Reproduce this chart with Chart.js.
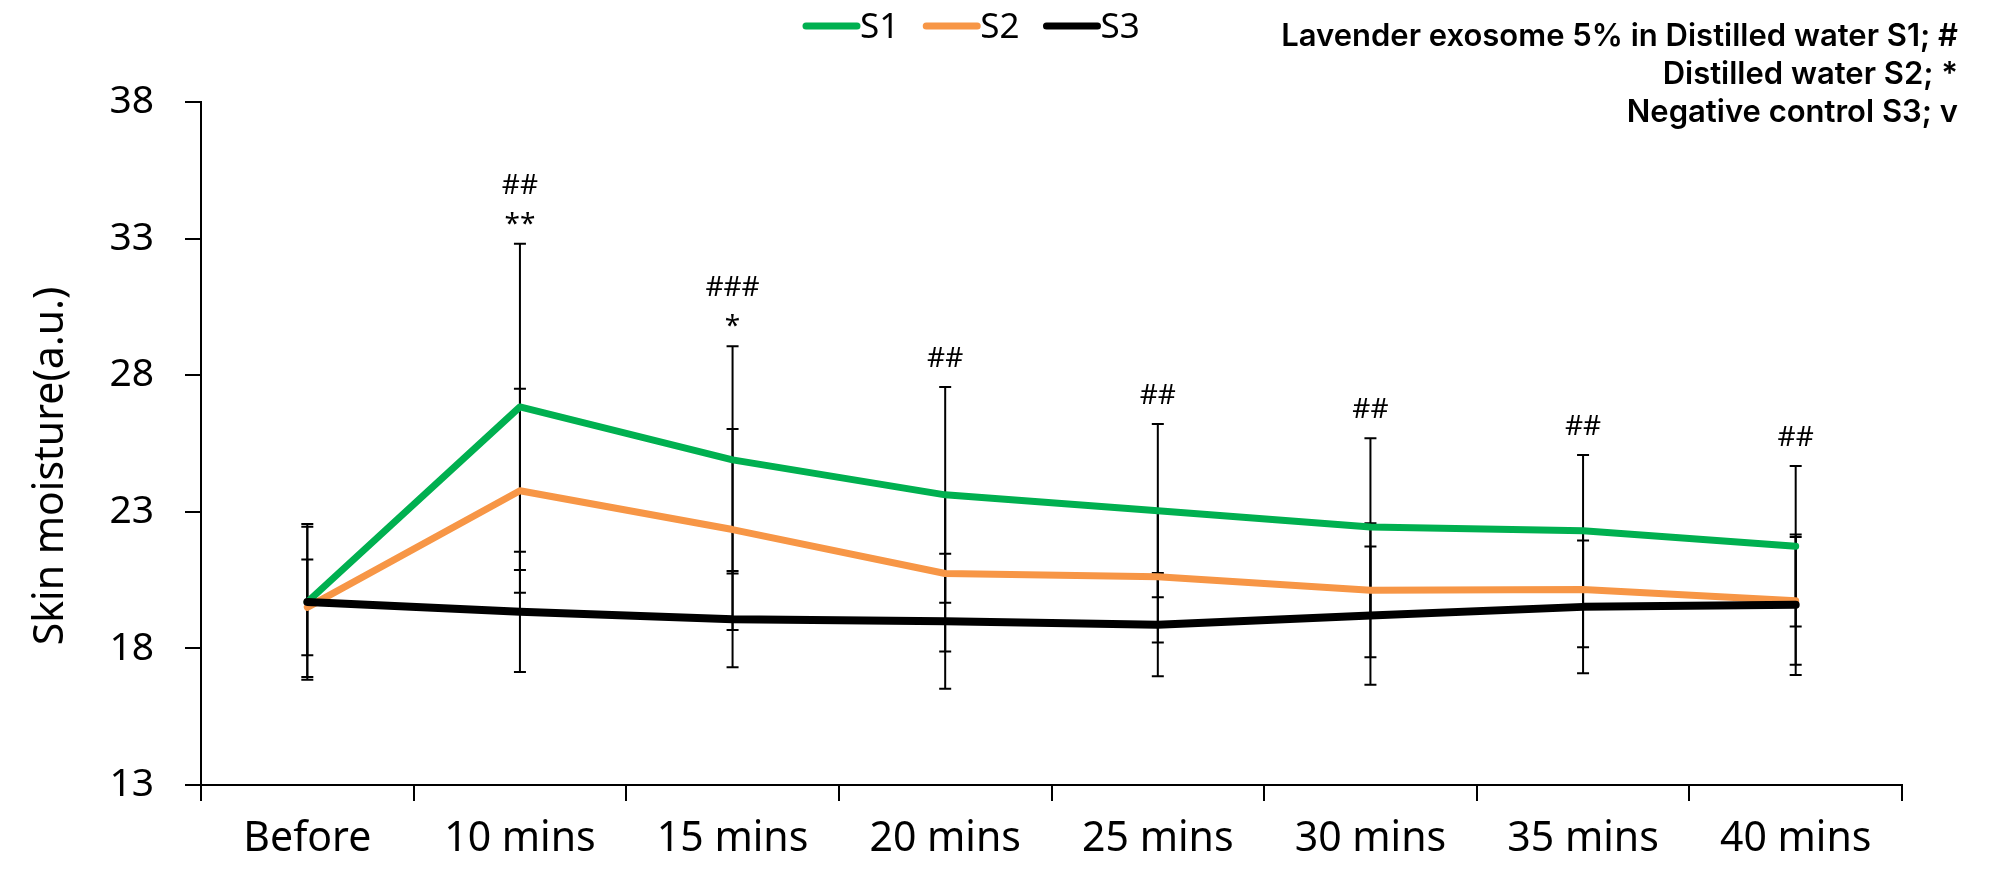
<!DOCTYPE html>
<html>
<head>
<meta charset="utf-8">
<script src="https://cdn.jsdelivr.net/npm/chart.js@4/dist/chart.umd.min.js"></script>
<style>
  html, body { margin: 0; padding: 0; background: #fff; }
  #wrap { width: 1994px; height: 871px; }
</style>
</head>
<body>
<div id="wrap"><canvas id="moisture-chart"></canvas></div>
<script>
const categories = ['Before', '10 mins', '15 mins', '20 mins', '25 mins', '30 mins', '35 mins', '40 mins'];
const seriesNames = ['S1', 'S2', 'S3'];
const s1 = [19.7, 26.84, 24.9, 23.62, 23.04, 22.44, 22.31, 21.74];
const s2 = [19.5, 23.77, 22.35, 20.74, 20.62, 20.13, 20.16, 19.74];
const s3 = [19.7, 19.34, 19.07, 18.99, 18.87, 19.2, 19.52, 19.6];
const s1Err = [2.85, 5.97, 4.16, 3.95, 3.17, 3.25, 2.77, 2.94];
const s2Err = [1.75, 3.73, 3.68, 2.85, 2.4, 2.45, 2.12, 2.34];
const s3Err = [2.75, 2.2, 1.76, 2.47, 1.89, 2.53, 2.43, 2.57];
const hashLabels = ['', '##', '###', '##', '##', '##', '##', '##'];
const starLabels = ['', '**', '*', '', '', '', '', ''];
const yTicks = [13, 18, 23, 28, 33, 38];
const noteLines = [
    'Lavender exosome 5% in Distilled water S1; #',
    'Distilled water S2; *',
    'Negative control S3; v'
];
const yTitle = 'Skin moisture(a.u.)';

const colors = ['#00B050', '#F79646', '#000000'];
const errors = [s1Err, s2Err, s3Err];
const FONT = '"Noto Sans", "Open Sans", sans-serif';

// error bars go under the lines
const errorBarPlugin = {
    id: 'errorBars',
    beforeDatasetsDraw(chart) {
        const ctx = chart.ctx;
        const y = chart.scales.y;
        ctx.save();
        ctx.strokeStyle = '#000';
        ctx.lineWidth = 2;
        chart.data.datasets.forEach((ds, di) => {
            const meta = chart.getDatasetMeta(di);
            meta.data.forEach((pt, i) => {
                const v = ds.data[i], e = errors[di][i];
                const top = y.getPixelForValue(v + e);
                const bot = y.getPixelForValue(v - e);
                ctx.beginPath();
                ctx.moveTo(pt.x, top); ctx.lineTo(pt.x, bot);
                ctx.moveTo(pt.x - 6, top); ctx.lineTo(pt.x + 6, top);
                ctx.moveTo(pt.x - 6, bot); ctx.lineTo(pt.x + 6, bot);
                ctx.stroke();
            });
        });
        ctx.restore();
    }
};

const extrasPlugin = {
    id: 'extras',
    afterDraw(chart) {
        const ctx = chart.ctx;
        const y = chart.scales.y;
        const meta = chart.getDatasetMeta(0);
        ctx.save();

        // significance marks above the S1 bars
        ctx.fillStyle = '#000';
        ctx.textAlign = 'center';
        ctx.textBaseline = 'alphabetic';
        ctx.font = '28px ' + FONT;
        meta.data.forEach((pt, i) => {
            const cap = y.getPixelForValue(s1[i] + s1Err[i]);
            if (starLabels[i]) {
                ctx.fillText(starLabels[i], pt.x, cap - 11);
                ctx.fillText(hashLabels[i], pt.x, cap - 50);
            } else if (hashLabels[i]) {
                ctx.fillText(hashLabels[i], pt.x, cap - 20);
            }
        });

        // legend
        let x = 803;
        ctx.font = '35px ' + FONT;
        ctx.textAlign = 'left';
        ctx.textBaseline = 'middle';
        ctx.lineCap = 'round';
        seriesNames.forEach((name, i) => {
            ctx.strokeStyle = colors[i];
            ctx.lineWidth = 7;
            ctx.beginPath();
            ctx.moveTo(x + 3, 26); ctx.lineTo(x + 54, 26);
            ctx.stroke();
            ctx.fillStyle = '#000';
            ctx.fillText(name, x + 57, 28);
            x += 57 + ctx.measureText(name).width + 24;
        });

        // note in the top right corner
        ctx.font = '600 31px Inter, sans-serif';
        ctx.textAlign = 'right';
        noteLines.forEach((t, i) => ctx.fillText(t, 1958, 37 + i * 38));

        // y title
        ctx.translate(51, 466);
        ctx.rotate(-Math.PI / 2);
        ctx.textAlign = 'center';
        ctx.font = '41px ' + FONT;
        ctx.fillText(yTitle, 0, 0);
        ctx.restore();
    }
};

const datasets = [s1, s2, s3].map((d, i) => ({
    label: seriesNames[i],
    data: d,
    borderColor: colors[i],
    backgroundColor: colors[i],
    borderWidth: i === 2 ? 8 : 7,
    borderCapStyle: 'round',
    borderJoinStyle: 'round',
    pointRadius: 0,
    tension: 0,
    order: i === 2 ? 0 : (i === 1 ? 1 : 2)
}));

new Chart(document.getElementById('moisture-chart'), {
    type: 'line',
    data: { labels: categories, datasets: datasets },
    options: {
        responsive: true,
        maintainAspectRatio: false,
        animation: false,
        layout: { padding: { top: 102, right: 92, bottom: 0, left: 0 } },
        plugins: {
            legend: { display: false },
            tooltip: { enabled: false }
        },
        scales: {
            x: {
                offset: true,
                grid: { offset: true, drawOnChartArea: false, tickLength: 16, color: '#000', lineWidth: 2 },
                border: { color: '#000', width: 2 },
                ticks: { color: '#000', font: { family: FONT, size: 41 }, padding: 14, maxRotation: 0 },
                afterFit(scale) { scale.height = 86; }
            },
            y: {
                min: 13,
                max: 38,
                afterBuildTicks(scale) { scale.ticks = yTicks.map(v => ({ value: v })); },
                grid: { drawOnChartArea: false, tickLength: 16, color: '#000', lineWidth: 2 },
                border: { color: '#000', width: 2 },
                ticks: { color: '#000', font: { family: FONT, size: 39 }, padding: 31 },
                afterFit(scale) { scale.width = 201; }
            }
        }
    },
    plugins: [errorBarPlugin, extrasPlugin]
});
</script>
</body>
</html>
